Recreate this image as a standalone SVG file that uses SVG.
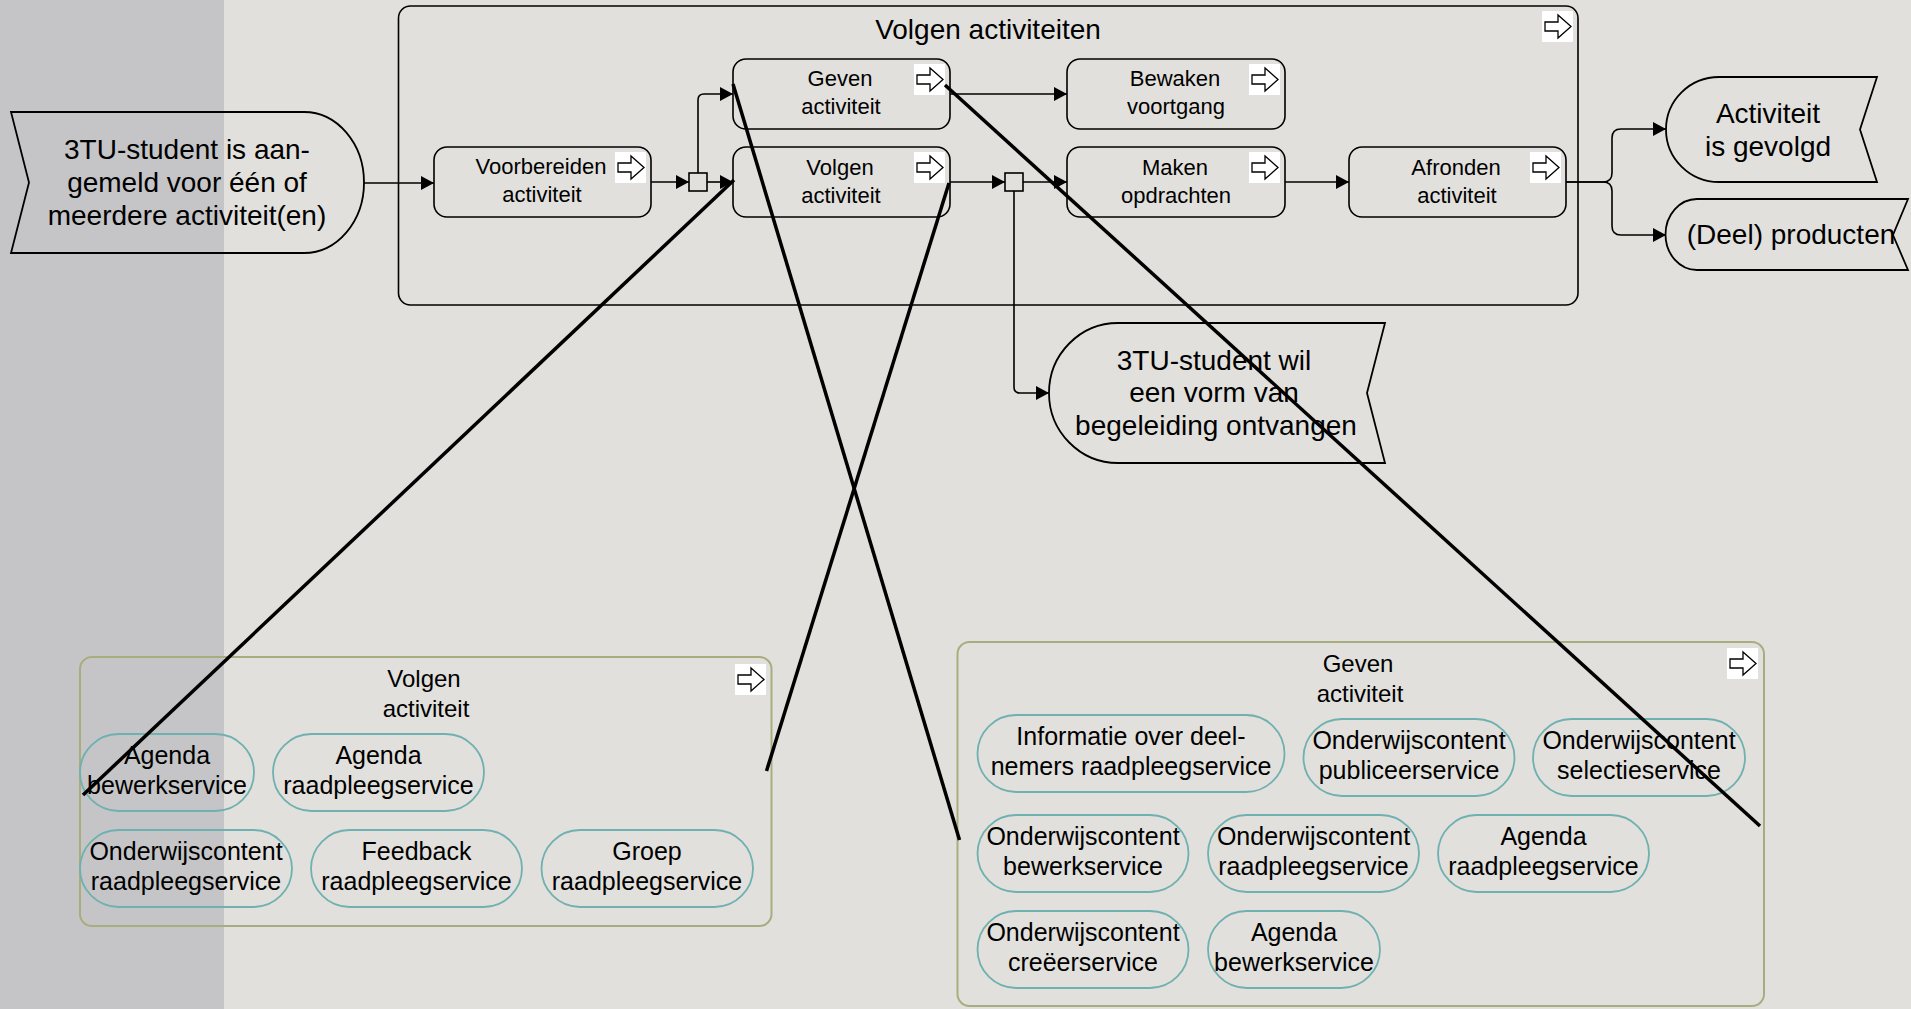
<svg xmlns="http://www.w3.org/2000/svg" width="1911" height="1009" viewBox="0 0 1911 1009">
<style>
text{font-family:"Liberation Sans",Arial,sans-serif;fill:#000;text-anchor:middle}
.t28{font-size:28px}
.t22{font-size:22px}
.t25{font-size:25px}
.t24{font-size:24px}
.ev{fill:none;stroke:#000;stroke-width:1.8}
.box{fill:none;stroke:#000;stroke-width:1.6}
.gw{fill:none;stroke:#000;stroke-width:1.6}
.grp{fill:none;stroke:#a9ad7e;stroke-width:2}
.pill{fill:none;stroke:#6fb0b0;stroke-width:1.8}
.con{fill:none;stroke:#000;stroke-width:1.6}
.ln{stroke:#000;stroke-width:3.5;fill:none}
</style>
<defs>
<marker id="arr" markerUnits="userSpaceOnUse" markerWidth="14" markerHeight="14" refX="13" refY="7" orient="auto">
<path d="M0,0 L13,7 L0,14 Z" fill="#000"/>
</marker>
<g id="ico">
<rect x="0" y="0" width="31" height="31" fill="#fff"/>
<path d="M3,11 H16 V4 L29,15.5 L16,27 V20 H3 Z" fill="#fff" stroke="#000" stroke-width="1.3" stroke-linejoin="miter"/>
</g>
</defs>
<rect x="0" y="0" width="1911" height="1009" fill="#e2e0dc"/>
<rect x="0" y="0" width="224" height="1009" fill="#c5c5c7"/>

<g id="container-volgen-activiteiten">
<rect x="398.5" y="6" width="1179.5" height="299" rx="12" class="box" stroke-width="2"/>
<text class="t28" x="988" y="39">Volgen activiteiten</text>
<use href="#ico" x="1542" y="11"/>
</g>

<g id="start-event">
<path class="ev" d="M11,112 H304 A60,70.5 0 0 1 304,253 H11 L29,182.5 Z"/>
<text class="t28" x="187" y="159">3TU-student is aan-</text>
<text class="t28" x="187" y="192">gemeld voor één of</text>
<text class="t28" x="187" y="225">meerdere activiteit(en)</text>
</g>

<g id="voorbereiden">
<rect class="box" x="434" y="147" width="217" height="70" rx="13"/>
<text class="t22" x="541" y="174">Voorbereiden</text>
<text class="t22" x="542" y="202">activiteit</text>
<use href="#ico" x="615" y="152"/>
</g>

<g id="geven">
<rect class="box" x="733" y="59" width="217" height="70" rx="13"/>
<text class="t22" x="840" y="86">Geven</text>
<text class="t22" x="841" y="114">activiteit</text>
<use href="#ico" x="914" y="64"/>
</g>

<g id="volgen">
<rect class="box" x="733" y="147" width="217" height="70" rx="13"/>
<text class="t22" x="840" y="175">Volgen</text>
<text class="t22" x="841" y="203">activiteit</text>
<use href="#ico" x="914" y="152"/>
</g>

<g id="bewaken">
<rect class="box" x="1067" y="59" width="218" height="70" rx="13"/>
<text class="t22" x="1175" y="86">Bewaken</text>
<text class="t22" x="1176" y="114">voortgang</text>
<use href="#ico" x="1249" y="64"/>
</g>

<g id="maken">
<rect class="box" x="1067" y="147" width="218" height="70" rx="13"/>
<text class="t22" x="1175" y="175">Maken</text>
<text class="t22" x="1176" y="203">opdrachten</text>
<use href="#ico" x="1249" y="152"/>
</g>

<g id="afronden">
<rect class="box" x="1349" y="147" width="217" height="70" rx="13"/>
<text class="t22" x="1456" y="175">Afronden</text>
<text class="t22" x="1457" y="203">activiteit</text>
<use href="#ico" x="1530" y="152"/>
</g>

<g id="gateway1"><rect class="gw" x="689" y="173" width="18" height="18"/></g>
<g id="gateway2"><rect class="gw" x="1005" y="173" width="18" height="18"/></g>

<g id="end-gevolgd">
<path class="ev" d="M1719,77 H1877 L1860,129.5 L1877,182 H1719 A53,52.5 0 0 1 1719,77 Z"/>
<text class="t28" x="1768" y="123">Activiteit</text>
<text class="t28" x="1768" y="156">is gevolgd</text>
</g>

<g id="end-producten">
<path class="ev" d="M1697,199 H1908 L1893,235 L1908,270 H1697 A31.5,35.5 0 0 1 1697,199 Z"/>
<text class="t28" x="1791" y="244">(Deel) producten</text>
</g>

<g id="end-begeleiding">
<path class="ev" d="M1118,323 H1385 L1367,393 L1385,463 H1118 A69,70 0 0 1 1118,323 Z"/>
<text class="t28" x="1214" y="370">3TU-student wil</text>
<text class="t28" x="1214" y="402">een vorm van</text>
<text class="t28" x="1216" y="435">begeleiding ontvangen</text>
</g>

<g id="grp-volgen">
<rect class="grp" x="80" y="657" width="691.5" height="269" rx="12"/>
<text class="t24" x="424" y="687">Volgen</text>
<text class="t24" x="426" y="717">activiteit</text>
<use href="#ico" x="735" y="664"/>
</g>
<g id="svc-v1"><rect class="pill" x="80" y="734" width="174" height="77" rx="38.5"/><text class="t25" x="167" y="764">Agenda</text><text class="t25" x="167" y="794">bewerkservice</text></g>
<g id="svc-v2"><rect class="pill" x="273" y="734" width="211" height="77" rx="38.5"/><text class="t25" x="378.5" y="764">Agenda</text><text class="t25" x="378.5" y="794">raadpleegservice</text></g>
<g id="svc-v3"><rect class="pill" x="80" y="830" width="212" height="77" rx="38.5"/><text class="t25" x="186" y="860">Onderwijscontent</text><text class="t25" x="186" y="890">raadpleegservice</text></g>
<g id="svc-v4"><rect class="pill" x="311" y="830" width="211" height="77" rx="38.5"/><text class="t25" x="416.5" y="860">Feedback</text><text class="t25" x="416.5" y="890">raadpleegservice</text></g>
<g id="svc-v5"><rect class="pill" x="541.5" y="830" width="211.5" height="77" rx="38.5"/><text class="t25" x="647" y="860">Groep</text><text class="t25" x="647" y="890">raadpleegservice</text></g>

<g id="grp-geven">
<rect class="grp" x="957.5" y="642" width="806.5" height="364" rx="12"/>
<text class="t24" x="1358" y="672">Geven</text>
<text class="t24" x="1360" y="702">activiteit</text>
<use href="#ico" x="1727" y="648"/>
</g>
<g id="svc-g1"><rect class="pill" x="977.5" y="715" width="307" height="77" rx="38.5"/><text class="t25" x="1131" y="745">Informatie over deel-</text><text class="t25" x="1131" y="775">nemers raadpleegservice</text></g>
<g id="svc-g2"><rect class="pill" x="1303.5" y="719" width="211" height="77" rx="38.5"/><text class="t25" x="1409" y="749">Onderwijscontent</text><text class="t25" x="1409" y="779">publiceerservice</text></g>
<g id="svc-g3"><rect class="pill" x="1533" y="719" width="212" height="77" rx="38.5"/><text class="t25" x="1639" y="749">Onderwijscontent</text><text class="t25" x="1639" y="779">selectieservice</text></g>
<g id="svc-g4"><rect class="pill" x="977.5" y="815" width="211" height="77" rx="38.5"/><text class="t25" x="1083" y="845">Onderwijscontent</text><text class="t25" x="1083" y="875">bewerkservice</text></g>
<g id="svc-g5"><rect class="pill" x="1208" y="815" width="211" height="77" rx="38.5"/><text class="t25" x="1313.5" y="845">Onderwijscontent</text><text class="t25" x="1313.5" y="875">raadpleegservice</text></g>
<g id="svc-g6"><rect class="pill" x="1438" y="815" width="211" height="77" rx="38.5"/><text class="t25" x="1543.5" y="845">Agenda</text><text class="t25" x="1543.5" y="875">raadpleegservice</text></g>
<g id="svc-g7"><rect class="pill" x="977.5" y="911" width="211" height="77" rx="38.5"/><text class="t25" x="1083" y="941">Onderwijscontent</text><text class="t25" x="1083" y="971">creëerservice</text></g>
<g id="svc-g8"><rect class="pill" x="1208" y="911" width="172" height="77" rx="38.5"/><text class="t25" x="1294" y="941">Agenda</text><text class="t25" x="1294" y="971">bewerkservice</text></g>

<g id="connectors">
<path class="con" marker-end="url(#arr)" d="M364,183 H434"/>
<path class="con" marker-end="url(#arr)" d="M651,182 H689"/>
<path class="con" marker-end="url(#arr)" d="M707,182 H733"/>
<path class="con" marker-end="url(#arr)" d="M698,173 V100 Q698,94 704,94 H733"/>
<path class="con" marker-end="url(#arr)" d="M950,94 H1067"/>
<path class="con" marker-end="url(#arr)" d="M950,182 H1005"/>
<path class="con" marker-end="url(#arr)" d="M1023,182 H1067"/>
<path class="con" marker-end="url(#arr)" d="M1014,191 V387 Q1014,393 1020,393 H1049"/>
<path class="con" marker-end="url(#arr)" d="M1285,182 H1349"/>
<path class="con" marker-end="url(#arr)" d="M1566,182 H1603 Q1612,182 1612,173 V138 Q1612,129 1621,129 H1666"/>
<path class="con" marker-end="url(#arr)" d="M1566,182 H1603 Q1612,182 1612,191 V226 Q1612,235 1621,235 H1666"/>
<line class="ln" x1="734" y1="180" x2="83" y2="795"/>
<line class="ln" x1="733" y1="84" x2="959.5" y2="840"/>
<line class="ln" x1="949" y1="183" x2="766.5" y2="771"/>
<line class="ln" x1="945" y1="85" x2="1760" y2="826"/>
</g>
</svg>
